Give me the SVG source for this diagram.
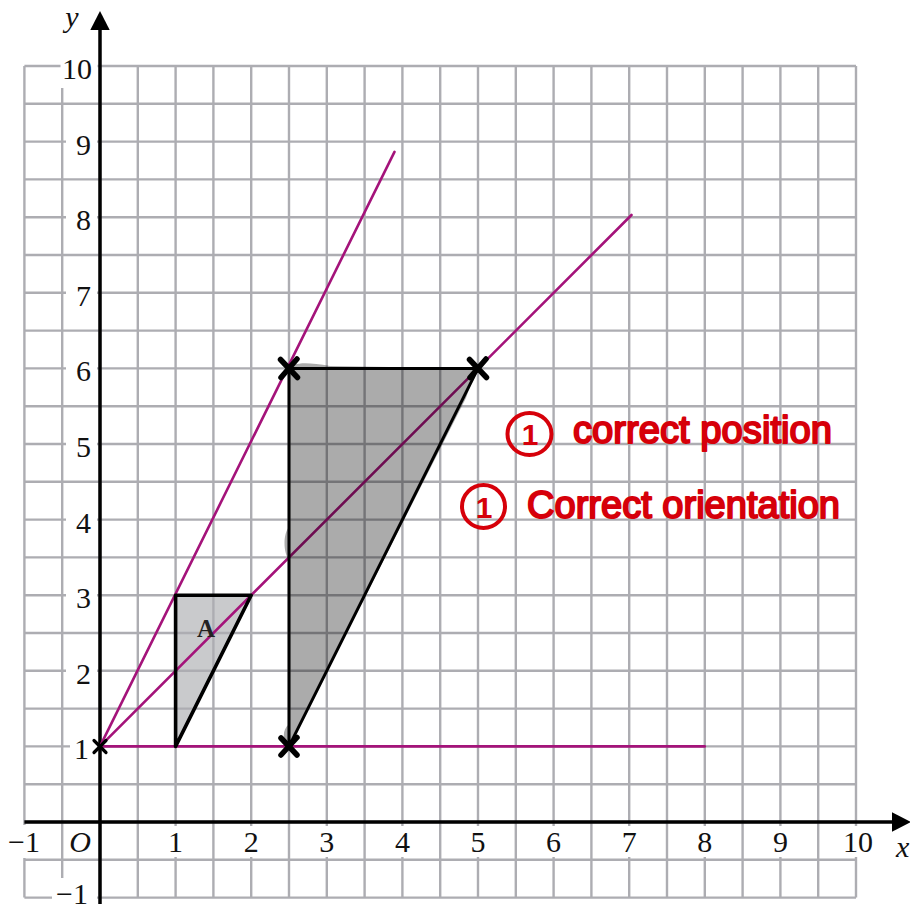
<svg xmlns="http://www.w3.org/2000/svg" width="910" height="904" viewBox="0 0 910 904">
  <style>
    .grid { stroke: #adadb2; stroke-width: 2.4; fill: none; }
    .wbox { fill: #ffffff; }
    .num { font-family: "Liberation Serif", "Times New Roman", serif; font-size: 30px; fill: #111111; }
    .ital { font-family: "Liberation Serif", "Times New Roman", serif; font-size: 30px; font-style: italic; fill: #111111; }
    .axis { stroke: #000000; stroke-width: 3.5; fill: none; }
    .pink { stroke: #a4137a; stroke-width: 2.6; fill: none; stroke-linecap: round; }
    .edge { stroke: #000000; stroke-width: 3; fill: none; stroke-linejoin: round; }
    .cross { stroke: #000000; stroke-width: 5.5; stroke-linecap: round; fill: none; }
    .hand { font-family: "Liberation Sans", "Noto Sans", sans-serif; font-size: 38px; fill: #d6000a; stroke: #d6000a; stroke-width: 2; stroke-linejoin: round; }
    .ring { fill: none; stroke: #d6000a; stroke-width: 4; }
    .ringnum { font-family: "Liberation Sans", "Noto Sans", sans-serif; font-size: 30px; font-weight: bold; fill: #d6000a; text-anchor: middle; }
  </style>
  <defs>
    <marker id="arrow" viewBox="0 0 20 20" refX="0" refY="10" markerWidth="20" markerHeight="20" markerUnits="userSpaceOnUse" orient="auto">
      <path d="M0,0.3 L19,10 L0,19.7 Z" fill="#000000"/>
    </marker>
  </defs>

  <rect width="910" height="904" fill="#ffffff"/>

  <!-- Shape A fill (under grid) -->
  <g id="shapeA-fill">
    <polygon points="175.6,746.4 175.6,595.2 251.2,595.2" fill="#c9cacc"/>
  </g>

  <!-- Grid -->
  <g id="grid">
    <path class="grid" d="
      M24.4,66 V897.6 M62.2,66 V897.6 M100,66 V897.6 M137.8,66 V897.6 M175.6,66 V897.6 M213.4,66 V897.6
      M251.2,66 V897.6 M289,66 V897.6 M326.8,66 V897.6 M364.6,66 V897.6 M402.4,66 V897.6 M440.2,66 V897.6
      M478,66 V897.6 M515.8,66 V897.6 M553.6,66 V897.6 M591.4,66 V897.6 M629.2,66 V897.6 M667,66 V897.6
      M704.8,66 V897.6 M742.6,66 V897.6 M780.4,66 V897.6 M818.2,66 V897.6 M856,66 V897.6
      M24.4,66 H856 M24.4,103.8 H856 M24.4,141.6 H856 M24.4,179.4 H856 M24.4,217.2 H856 M24.4,255 H856
      M24.4,292.8 H856 M24.4,330.6 H856 M24.4,368.4 H856 M24.4,406.2 H856 M24.4,444 H856 M24.4,481.8 H856
      M24.4,519.6 H856 M24.4,557.4 H856 M24.4,595.2 H856 M24.4,633 H856 M24.4,670.8 H856 M24.4,708.6 H856
      M24.4,746.4 H856 M24.4,784.2 H856 M24.4,822 H856 M24.4,859.8 H856 M24.4,897.6 H856"/>
  </g>

  <!-- Label backgrounds -->
  <g id="label-boxes" class="wbox">
    <rect x="60.5" y="48" width="37" height="40"/>
    <rect x="66" y="126" width="31" height="32"/>
    <rect x="66" y="202" width="31" height="32"/>
    <rect x="66" y="277" width="31" height="32"/>
    <rect x="66" y="353" width="31" height="32"/>
    <rect x="66" y="428" width="31" height="32"/>
    <rect x="66" y="504" width="31" height="32"/>
    <rect x="66" y="580" width="31" height="32"/>
    <rect x="66" y="655" width="31" height="32"/>
    <rect x="70" y="731" width="27" height="32"/>
    <rect x="52" y="878" width="45" height="26"/>
    <rect x="6" y="825" width="37" height="33"/>
    <rect x="66" y="825" width="30" height="33"/>
    <rect x="163.6" y="826" width="24" height="31"/>
    <rect x="239.2" y="826" width="24" height="31"/>
    <rect x="314.8" y="826" width="24" height="31"/>
    <rect x="390.4" y="826" width="24" height="31"/>
    <rect x="466" y="826" width="24" height="31"/>
    <rect x="541.6" y="826" width="24" height="31"/>
    <rect x="617.2" y="826" width="24" height="31"/>
    <rect x="692.8" y="826" width="24" height="31"/>
    <rect x="768.4" y="826" width="24" height="31"/>
    <rect x="838" y="826" width="38" height="31"/>
  </g>

  <!-- Axis labels -->
  <g id="y-labels" class="num" text-anchor="end">
    <text x="92" y="78.5">10</text>
    <text x="91" y="154.6">9</text>
    <text x="91" y="230.2">8</text>
    <text x="91" y="305.8">7</text>
    <text x="91" y="381.4">6</text>
    <text x="91" y="457">5</text>
    <text x="91" y="532.6">4</text>
    <text x="91" y="608.2">3</text>
    <text x="91" y="683.8">2</text>
    <text x="89" y="759.4">1</text>
    <text x="88" y="904">−1</text>
  </g>
  <g id="x-labels" class="num" text-anchor="middle">
    <text x="24" y="852">−1</text>
    <text x="175.6" y="852">1</text>
    <text x="251.2" y="852">2</text>
    <text x="326.8" y="852">3</text>
    <text x="402.4" y="852">4</text>
    <text x="478" y="852">5</text>
    <text x="553.6" y="852">6</text>
    <text x="629.2" y="852">7</text>
    <text x="704.8" y="852">8</text>
    <text x="780.4" y="852">9</text>
    <text x="858" y="852">10</text>
  </g>
  <text id="origin-label" class="ital" x="80" y="852" text-anchor="middle">O</text>
  <text id="y-axis-label" class="ital" x="72" y="27" text-anchor="middle">y</text>
  <text id="x-axis-label" class="ital" x="896" y="857">x</text>

  <!-- Axes -->
  <g id="axes">
    <path class="axis" d="M100,904 V30" marker-end="url(#arrow)"/>
    <path class="axis" d="M24.4,822 H892" marker-end="url(#arrow)"/>
  </g>

  <!-- Construction lines (connectors) -->
  <g id="connectors">
    <line class="pink" x1="100" y1="746.4" x2="394.5" y2="151.8"/>
    <line class="pink" x1="100" y1="746.4" x2="631.5" y2="215"/>
    <line class="pink" x1="100" y1="746.4" x2="704.8" y2="746.4"/>
  </g>

  <!-- Shape A outline -->
  <g id="shapeA">
    <polygon class="edge" points="175.6,746.4 175.6,595.2 251.2,595.2" style="stroke-width:3.6"/>
    <text x="206" y="637" text-anchor="middle" style="font-family:'Liberation Serif','Times New Roman',serif;font-size:25px;font-weight:bold;fill:#222222">A</text>
  </g>

  <!-- Enlarged image -->
  <g id="image-triangle">
    <path d="M289,370 C292,362 306,362 330,366 L478,368.4 C472,380 468,392 466,398 L289,746.4 C282,741 282,730 289,724 L289,560 C283,552 283,534 289,527 Z" fill="#000000" fill-opacity="0.33"/>
    <polygon class="edge" points="289,746.4 289,368.4 478,368.4"/>
  </g>

  <!-- Crosses -->
  <g id="crosses">
    <path class="cross" d="M280.5,359.5 L297.5,377.5 M297,359 L281,377.5"/>
    <path class="cross" d="M469.5,359.5 L486.5,377.5 M486,359 L470,377.5"/>
    <path class="cross" d="M281,738 L297,755 M297,737.5 L281,755"/>
    <path class="cross" style="stroke-width:3.2" d="M94,740.5 L106,752.5 M106,740.5 L94,752.5"/>
  </g>

  <!-- Marking annotations -->
  <g id="annotation-position">
    <ellipse class="ring" cx="529.5" cy="434" rx="22" ry="21"/>
    <text class="ringnum" x="530" y="445">1</text>
    <text class="hand" x="573" y="443" textLength="259" lengthAdjust="spacingAndGlyphs">correct position</text>
  </g>
  <g id="annotation-orientation">
    <ellipse class="ring" cx="483.5" cy="506.5" rx="21.5" ry="21.5"/>
    <text class="ringnum" x="484" y="517.5">1</text>
    <text class="hand" x="527" y="518" textLength="313" lengthAdjust="spacingAndGlyphs">Correct orientation</text>
  </g>
</svg>
